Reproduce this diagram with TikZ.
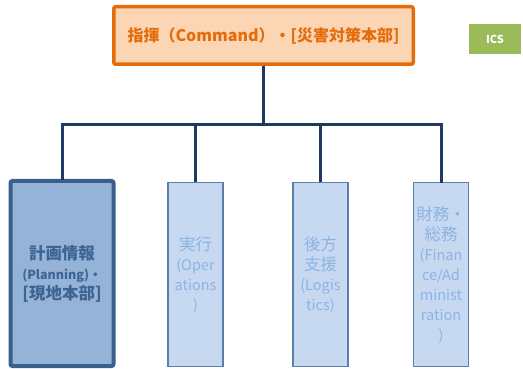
\documentclass[tikz,border=0pt]{standalone}
\usepackage{fontspec}
\setmainfont{Noto Sans CJK JP}
\definecolor{orbd}{HTML}{E46C0A}
\definecolor{orfill}{HTML}{FCD5B5}
\definecolor{navy}{HTML}{1F3A60}
\definecolor{pbd}{HTML}{3B5F8C}
\definecolor{pfill}{HTML}{95B3D7}
\definecolor{ptext}{HTML}{3D6594}
\definecolor{lbd}{HTML}{5B7EAA}
\definecolor{lfill}{HTML}{C6D9F1}
\definecolor{ltext}{HTML}{8DB3E2}
\definecolor{icsg}{HTML}{9BBB59}
\newcommand{\jbig}[1]{{\fontsize{16.5}{20}\selectfont #1}}
\newcommand{\lsmall}[1]{{\fontsize{12.5}{20}\selectfont #1}}
\begin{document}
\begin{tikzpicture}[x=1pt,y=-1pt,
  topbox/.style={draw=orbd,fill=orfill,line width=3.5pt,rounded corners=2pt,minimum width=299.5pt,minimum height=57.5pt,inner sep=0pt,text=orbd,font=\fontsize{16}{18}\selectfont\bfseries},
  planbox/.style={draw=pbd,fill=pfill,line width=4pt,rounded corners=2pt,minimum width=103pt,minimum height=185pt,inner sep=0pt,text=ptext,align=center,font=\fontsize{16.5}{20}\selectfont\bfseries},
  subbox/.style={draw=lbd,fill=lfill,line width=1.5pt,minimum width=55pt,minimum height=184pt,inner sep=0pt,text=ltext,align=center,font=\fontsize{14.5}{20}\selectfont},
  icsbox/.style={fill=icsg,minimum width=52pt,minimum height=30pt,inner sep=0pt,text=white,font=\fontsize{11}{13}\selectfont\bfseries},
  conn/.style={draw=navy,line width=3pt}]
\useasboundingbox (0,0) rectangle (523,369);
\node[topbox] (top) at (263.5,35.5) {指揮（Command）・{[}災害対策本部{]}};
\node[icsbox] (ics) at (495,39) {ICS};
\node[planbox] (b1) at (62,273.5) {計画情報\\\lsmall{(Planning)・}\\{[}現地本部{]}};
\node[subbox] (b2) at (195.5,274.5) {\jbig{実行}\\(Oper\\ations\\)};
\node[subbox] (b3) at (320.5,274.5) {\jbig{後方}\\\jbig{支援}\\(Logis\\tics)};
\node[subbox] (b4) at (441,274.5) {\jbig{財務・}\\\jbig{総務}\\(Finan\\ce/Ad\\minist\\ration\\)};
\coordinate (hub) at (263.5,125);
\draw[conn] (top.south) -- (hub);
\draw[conn,line cap=rect] (b1.north) |- (hub);
\draw[conn] (b2.north) |- (hub);
\draw[conn] (b3.north) |- (hub);
\draw[conn,line cap=rect] (b4.north) |- (hub);
\end{tikzpicture}
\end{document}
